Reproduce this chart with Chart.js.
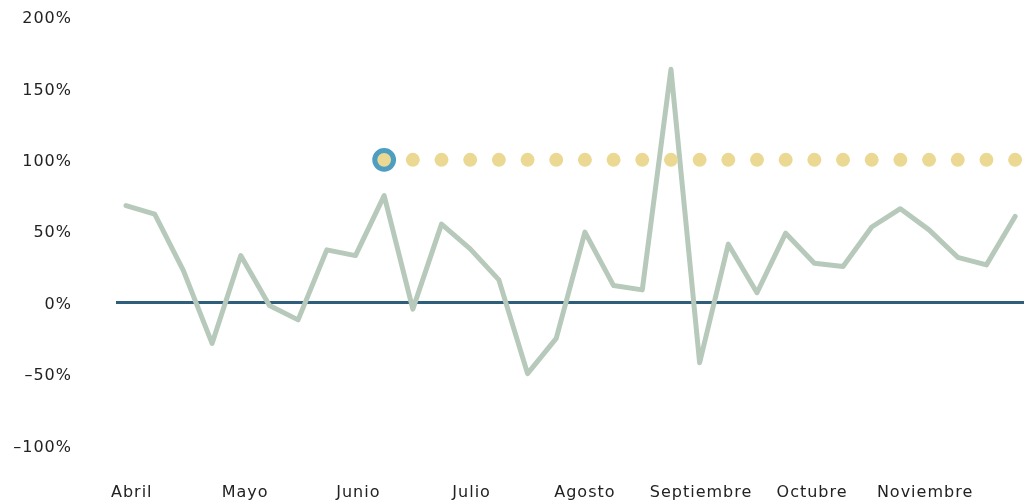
<!DOCTYPE html>
<html>
<head>
<meta charset="utf-8">
<script src="https://cdn.jsdelivr.net/npm/chart.js@4.4.1/dist/chart.umd.min.js"></script>
<style>
  html, body { margin: 0; padding: 0; background: #ffffff; }
  #wrap { width: 1024px; height: 504px; }
</style>
</head>
<body>
<div id="wrap"><canvas id="c" width="1024" height="504"></canvas></div>
<script>
// Weekly observations, April to November (x = week index)
const weekIndex = [0,1,2,3,4,5,6,7,8,9,10,11,12,13,14,15,16,17,18,19,20,21,22,23,24,25,26,27,28,29,30,31];
const changePct = [68, 62, 22.5, -28.5, 33, -2, -12, 37, 33, 75, -4.5, 55, 37.7, 16, -49.6, -25, 49.4, 12, 9, 163.4, -42, 41, 7, 48.7, 27.6, 25.3, 53, 65.8, 51, 31.8, 26.5, 60.4];
const targetPct = [null, null, null, null, null, null, null, null, null, 100, 100, 100, 100, 100, 100, 100, 100, 100, 100, 100, 100, 100, 100, 100, 100, 100, 100, 100, 100, 100, 100, 100];
const monthLabels = ['Abril', 'Mayo', 'Junio', 'Julio', 'Agosto', 'Septiembre', 'Octubre', 'Noviembre'];
const monthTickPos = [0.2, 4.15, 8.1, 12.05, 16, 20.05, 23.92, 27.86];
const yTicks = [-100, -50, 0, 50, 100, 150, 200];

const firstTarget = targetPct.findIndex(v => v !== null);

const lsPlugin = {
  id: 'letterSpacing',
  beforeInit(c) { c.ctx.letterSpacing = '1px'; },
  beforeLayout(c) { c.ctx.letterSpacing = '1px'; },
  beforeDraw(c) { c.ctx.letterSpacing = '1px'; }
};

const fontSpec = { family: "'DejaVu Sans', sans-serif", size: 16 };

new Chart(document.getElementById('c'), {
  type: 'line',
  data: {
    datasets: [
      {
        label: 'Meta',
        data: weekIndex.map((x, i) => ({ x: x, y: targetPct[i] })),
        showLine: false,
        order: 0,
        pointRadius: ctx => ctx.dataIndex === firstTarget ? 9.4 : 7,
        pointBackgroundColor: '#ebd993',
        pointBorderColor: ctx => ctx.dataIndex === firstTarget ? '#4d9ec0' : '#ebd993',
        pointBorderWidth: ctx => ctx.dataIndex === firstTarget ? 5 : 0,
        pointHoverRadius: 7
      },
      {
        label: 'Variación',
        data: weekIndex.map((x, i) => ({ x: x, y: changePct[i] })),
        order: 1,
        borderColor: '#b7c9ba',
        borderWidth: 5,
        borderJoinStyle: 'round',
        borderCapStyle: 'round',
        pointRadius: 0,
        tension: 0
      }
    ]
  },
  options: {
    responsive: false,
    animation: false,
    devicePixelRatio: 1,
    layout: { autoPadding: false, padding: { top: 17, left: 0, right: 0, bottom: 0 } },
    plugins: { legend: { display: false }, tooltip: { enabled: false } },
    scales: {
      x: {
        type: 'linear',
        min: -0.35,
        max: 31.31,
        border: { display: false },
        grid: { display: false, drawTicks: false },
        afterBuildTicks: s => { s.ticks = monthTickPos.map(v => ({ value: v })); },
        afterFit: s => { s.height = 58.4; s.paddingLeft = 0; s.paddingRight = 0; },
        ticks: {
          autoSkip: false,
          maxRotation: 0,
          padding: 38,
          color: '#222222',
          font: fontSpec,
          callback: (v, i) => monthLabels[i]
        }
      },
      y: {
        min: -100,
        max: 200,
        border: { display: false },
        afterBuildTicks: s => { s.ticks = yTicks.map(v => ({ value: v })); },
        afterFit: s => { s.width = 116; s.paddingTop = 0; s.paddingBottom = 0; },
        grid: {
          drawTicks: false,
          color: ctx => (ctx.tick && ctx.tick.value === 0) ? '#2f5e7b' : 'rgba(0,0,0,0)',
          lineWidth: ctx => (ctx.tick && ctx.tick.value === 0) ? 3 : 0
        },
        ticks: {
          padding: 44,
          labelOffset: 2,
          color: '#222222',
          font: fontSpec,
          callback: v => (v < 0 ? '\u2013' + Math.abs(v) : v) + '%'
        }
      }
    }
  },
  plugins: [lsPlugin]
});
</script>
</body>
</html>
